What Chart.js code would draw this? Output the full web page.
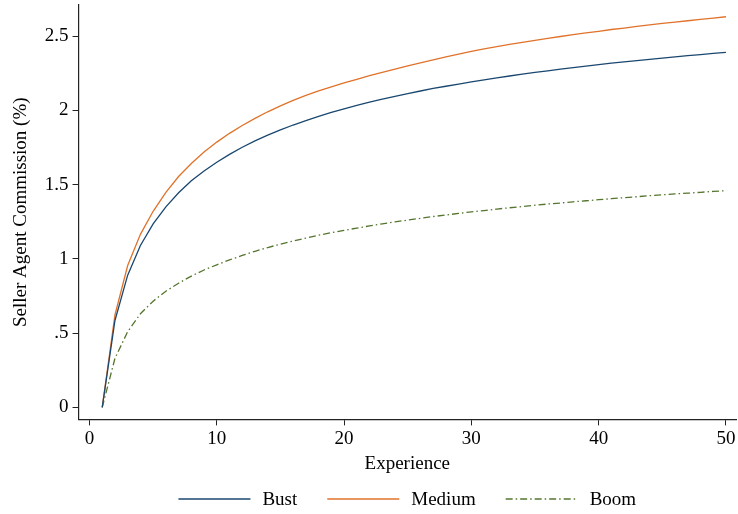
<!DOCTYPE html>
<html>
<head>
<meta charset="utf-8">
<script src="https://cdn.jsdelivr.net/npm/chart.js@4.4.1/dist/chart.umd.min.js"></script>
<style>
  html, body { margin: 0; padding: 0; background: #fff; }
  #wrap { width: 738px; height: 514px; }
</style>
</head>
<body>
<div id="wrap"><canvas id="chart" width="738" height="514"></canvas></div>
<script>
'use strict';

/* ---- Data ---- */
const experience = [1, 2, 3, 4, 5, 6, 7, 8, 9, 10, 11, 12, 13, 14, 15, 16, 17, 18, 19, 20,
  21, 22, 23, 24, 25, 26, 27, 28, 29, 30, 31, 32, 33, 34, 35, 36, 37, 38, 39, 40,
  41, 42, 43, 44, 45, 46, 47, 48, 49, 50];

const bust = [0, 0.585, 0.89, 1.09, 1.235, 1.35, 1.445, 1.525, 1.592, 1.65,
  1.703, 1.751, 1.794, 1.833, 1.868, 1.901, 1.931, 1.959, 1.986, 2.01,
  2.033, 2.055, 2.075, 2.094, 2.113, 2.13, 2.147, 2.162, 2.177, 2.192,
  2.205, 2.219, 2.231, 2.243, 2.255, 2.266, 2.277, 2.288, 2.298, 2.307,
  2.317, 2.326, 2.335, 2.343, 2.352, 2.36, 2.368, 2.375, 2.383, 2.39];

const medium = [0, 0.622, 0.955, 1.165, 1.32, 1.448, 1.554, 1.642, 1.719, 1.786,
  1.845, 1.898, 1.946, 1.99, 2.03, 2.067, 2.101, 2.131, 2.158, 2.184,
  2.209, 2.233, 2.256, 2.278, 2.299, 2.319, 2.339, 2.359, 2.378, 2.397,
  2.414, 2.429, 2.444, 2.458, 2.471, 2.484, 2.497, 2.509, 2.521, 2.532,
  2.544, 2.554, 2.565, 2.575, 2.585, 2.594, 2.603, 2.612, 2.621, 2.63];

const boom = [0, 0.33, 0.51, 0.63, 0.715, 0.782, 0.836, 0.884, 0.925, 0.96,
  0.993, 1.023, 1.051, 1.076, 1.099, 1.12, 1.14, 1.159, 1.176, 1.192,
  1.207, 1.222, 1.236, 1.249, 1.261, 1.273, 1.285, 1.295, 1.306, 1.316,
  1.325, 1.335, 1.344, 1.352, 1.361, 1.369, 1.376, 1.384, 1.391, 1.398,
  1.405, 1.412, 1.418, 1.425, 1.431, 1.437, 1.442, 1.448, 1.454, 1.459];

const xTicks = [0, 10, 20, 30, 40, 50];
const yTicks = [0, 0.5, 1, 1.5, 2, 2.5];
const yTickLabels = ['0', '.5', '1', '1.5', '2', '2.5'];

/* ---- Style ---- */
const SERIF = "'Liberation Serif', 'Times New Roman', serif";
const FONT_SIZE = 19;
const COLORS = {
  bust:   '#1a476f',
  medium: '#e0722a',
  boom:   '#55752f',
  axis:   '#222',
  text:   '#000',
};

const toPoints = (ys) => ys.map((y, i) => ({ x: experience[i], y }));

/* ---- Stata-style legend below the axis title ---- */
const bottomLegend = {
  id: 'bottomLegend',
  afterDraw(chart) {
    const ctx = chart.ctx;
    const area = chart.chartArea;
    const lineLen = 72, gap = 12, spacing = 30, y = 499;
    ctx.save();
    ctx.font = FONT_SIZE + 'px ' + SERIF;
    const items = chart.data.datasets.map(ds => ({ ds, w: ctx.measureText(ds.label).width }));
    const total = items.reduce((s, it) => s + lineLen + gap + it.w, 0) + spacing * (items.length - 1);
    let x = (area.left + area.right) / 2 - total / 2;
    items.forEach(({ ds, w }) => {
      ctx.strokeStyle = ds.borderColor;
      ctx.lineWidth = ds.borderWidth;
      ctx.setLineDash(ds.borderDash || []);
      ctx.beginPath();
      ctx.moveTo(x, y);
      ctx.lineTo(x + lineLen, y);
      ctx.stroke();
      ctx.setLineDash([]);
      ctx.fillStyle = COLORS.text;
      ctx.textAlign = 'left';
      ctx.textBaseline = 'middle';
      ctx.fillText(ds.label, x + lineLen + gap, y + 1);
      x += lineLen + gap + w + spacing;
    });
    ctx.restore();
  }
};

function lineSet(label, data, color, dash) {
  return {
    label,
    data: toPoints(data),
    borderColor: color,
    backgroundColor: color,
    borderWidth: 1.3,
    borderDash: dash,
    pointRadius: 0,
    tension: 0,
    fill: false,
  };
}

new Chart(document.getElementById('chart'), {
  type: 'line',
  data: {
    datasets: [
      lineSet('Bust', bust, COLORS.bust, []),
      lineSet('Medium', medium, COLORS.medium, []),
      lineSet('Boom', boom, COLORS.boom, [7, 3, 1.5, 3]),
    ]
  },
  options: {
    responsive: false,
    animation: false,
    devicePixelRatio: 1,
    layout: { padding: { top: 5, right: 2, left: 10, bottom: 39 } },
    plugins: {
      legend: { display: false },
      tooltip: { enabled: false },
    },
    scales: {
      x: {
        type: 'linear',
        min: -0.86,
        max: 50.79,
        afterBuildTicks: (axis) => { axis.ticks = xTicks.map(v => ({ value: v })); },
        grid: { display: true, drawOnChartArea: false, drawTicks: true, tickLength: 6, color: COLORS.axis },
        border: { display: true, color: COLORS.axis, width: 1.2 },
        ticks: { color: COLORS.text, font: { family: SERIF, size: FONT_SIZE }, padding: 2, maxRotation: 0 },
        title: { display: true, text: 'Experience', color: COLORS.text, font: { family: SERIF, size: FONT_SIZE }, padding: { top: 0, bottom: 0 } },
      },
      y: {
        min: -0.081,
        max: 2.709,
        afterBuildTicks: (axis) => { axis.ticks = yTicks.map(v => ({ value: v })); },
        grid: { display: true, drawOnChartArea: false, drawTicks: true, tickLength: 6, color: COLORS.axis },
        border: { display: true, color: COLORS.axis, width: 1.2 },
        ticks: {
          color: COLORS.text,
          font: { family: SERIF, size: FONT_SIZE, lineHeight: 0.1 },
          padding: 4,
          callback: (v) => yTickLabels[yTicks.indexOf(v)] ?? '',
        },
        title: { display: true, text: 'Seller Agent Commission (%)', color: COLORS.text, font: { family: SERIF, size: FONT_SIZE }, padding: { top: 0, bottom: 8 } },
      }
    }
  },
  plugins: [bottomLegend]
});
</script>
</body>
</html>
